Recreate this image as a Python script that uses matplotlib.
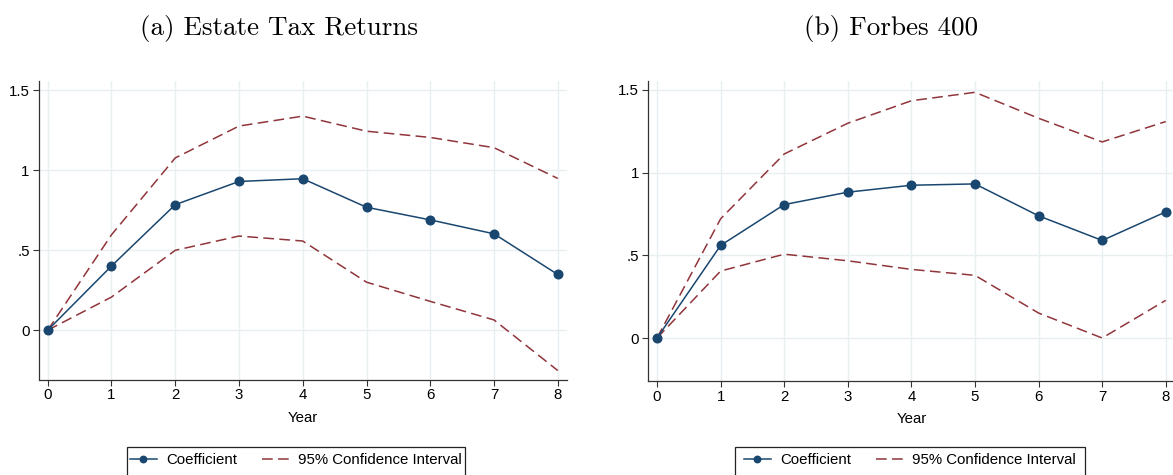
import matplotlib
matplotlib.use("Agg")
import matplotlib.pyplot as plt
from matplotlib.patches import Rectangle
import numpy as np

years = np.arange(9)

# (a) estate tax returns
estate_coef = [0, 0.401, 0.784, 0.929, 0.946, 0.768, 0.689, 0.602, 0.348]
estate_hi = [0, 0.596, 1.076, 1.275, 1.337, 1.243, 1.204, 1.140, 0.948]
estate_lo = [0, 0.207, 0.499, 0.588, 0.557, 0.300, 0.180, 0.064, -0.252]

# (b) forbes 400
forbes_coef = [0, 0.560, 0.807, 0.882, 0.924, 0.932, 0.739, 0.590, 0.763]
forbes_hi = [0, 0.721, 1.113, 1.299, 1.435, 1.486, 1.329, 1.186, 1.309]
forbes_lo = [0, 0.405, 0.507, 0.467, 0.415, 0.379, 0.151, 0.000, 0.228]

ytick_vals = [0, 0.5, 1, 1.5]
ytick_labels = ['0', '.5', '1', '1.5']

navy = '#1a476f'
maroon = '#90353b'
gridc = '#e8eff0'

plt.rcParams['font.family'] = ['Liberation Sans', 'DejaVu Sans']
fs = 10.8

fig = plt.figure(figsize=(11.73, 4.75), dpi=100)
W, H = 1173.0, 475.0

def px_axes(x0, x1, y0, y1):
    # pixel box (top-left origin) -> figure axes
    return fig.add_axes([x0 / W, 1 - y1 / H, (x1 - x0) / W, (y1 - y0) / H])

panels = [
    (px_axes(38.5, 567.0, 81.4, 379.5), estate_coef, estate_hi, estate_lo, (-0.308, 1.554)),
    (px_axes(647.8, 1175.0, 81.4, 381.0), forbes_coef, forbes_hi, forbes_lo, (-0.26, 1.552)),
]

for ax, coef, hi, lo, ylim in panels:
    ax.set_axisbelow(True)
    ax.grid(True, color=gridc, lw=1.0)
    ax.plot(years, coef, color=navy, lw=1.1, marker='o', ms=6.2,
            label='Coefficient', zorder=3)
    ax.plot(years, hi, color=maroon, lw=1.1, dashes=(7, 3.5),
            label='95% Confidence Interval', zorder=2)
    ax.plot(years, lo, color=maroon, lw=1.1, dashes=(7, 3.5), zorder=2)
    ax.set_xlim(-0.145, 8.145)
    ax.set_ylim(*ylim)
    ax.set_xticks(years)
    ax.set_yticks(ytick_vals)
    ax.set_yticklabels(ytick_labels)
    ax.tick_params(labelsize=fs, length=4.3, width=0.8, color='#333333', pad=2)
    for s in ['top', 'right']:
        ax.spines[s].set_visible(False)
    for s in ['left', 'bottom']:
        ax.spines[s].set_color('#333333')
        ax.spines[s].set_linewidth(0.9)
    ax.set_xlabel('Year', fontsize=fs, labelpad=6)

titles = [('(a) Estate Tax Returns', 279), ('(b) Forbes 400', 891)]
for txt, xc in titles:
    fig.text(xc / W, 1 - 28 / H, txt, ha='center', va='center',
             fontsize=19.5, family='cmr10')

# legend boxes under each panel
for ax, (bx0, bx1) in zip([p[0] for p in panels], [(127, 465), (735, 1085)]):
    fig.patches.append(Rectangle((bx0 / W, 1 - 490 / H), (bx1 - bx0) / W, 43 / H,
                                 transform=fig.transFigure, fill=False,
                                 edgecolor='#222222', lw=0.9))
    h, lab = ax.get_legend_handles_labels()
    fig.legend(h, lab, loc='center', bbox_to_anchor=((bx0 + bx1) / 2 / W, 1 - 460 / H),
               ncol=2, frameon=False, fontsize=fs, handlelength=1.8,
               handletextpad=0.6, columnspacing=1.7, markerscale=0.75)

fig.savefig('out.png', dpi=100)
